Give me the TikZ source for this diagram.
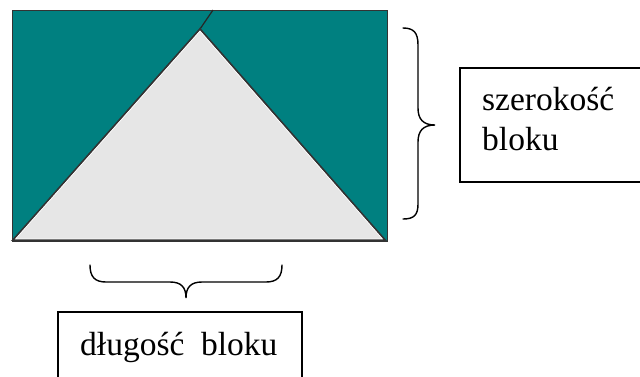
\documentclass[tikz,border=0pt]{standalone}
\usepackage{fontspec}
\setmainfont{Liberation Serif}
\definecolor{tealfill}{HTML}{008080}
\definecolor{trigray}{HTML}{E6E6E6}
\tikzset{
  brace/.style={draw=black, line width=1.4pt, line cap=round},
  labelbox/.style={draw=black, line width=1.2pt},
  lbl/.style={font=\fontsize{33.5}{40}\selectfont, anchor=base west, inner sep=0pt}
}
\begin{document}
\begin{tikzpicture}[x=1pt,y=-1pt]
\useasboundingbox (0,0) rectangle (640,376);
\clip (0,0) rectangle (640,376);
% block
\filldraw[fill=tealfill, draw=black!80, line width=0.8pt] (12,10) rectangle (387,241);
\coordinate (apex) at (200,29);
\coordinate (topcut) at (213,10);
\draw[black!85, line width=1.2pt] (apex) -- (topcut);
\filldraw[fill=trigray, draw=black!80, line width=1.8pt, line join=miter] (13,240) -- (apex) -- (385,240) -- cycle;
\draw[white, line width=0.6pt] (15.5,239) -- (200,31) -- (382.5,239) -- cycle;
% right brace
\draw[brace] (403,28) .. controls (414,28) and (418,33) .. (418,45) -- (418,108) .. controls (418,119) and (423,125) .. (435,125)
  .. controls (423,125) and (418,131) .. (418,142) -- (418,204) .. controls (418,215) and (414,219) .. (403,219);
% bottom brace
\draw[brace] (90,265) .. controls (90,277) and (95,282) .. (106,282) -- (170,282) .. controls (181,282) and (186,287) .. (186,298)
  .. controls (186,287) and (191,282) .. (202,282) -- (266,282) .. controls (277,282) and (282,277) .. (282,265);
% label boxes
\draw[labelbox] (460,68) rectangle (660,182);
\node[lbl] (w1) at (482,110) {szerokość};
\node[lbl] (w2) at (482,150) {bloku};
\draw[labelbox] (58,312) rectangle (302,400);
\node[lbl] (l1) at (80,355) {długość\hspace{0.5em}bloku};
\end{tikzpicture}
\end{document}
